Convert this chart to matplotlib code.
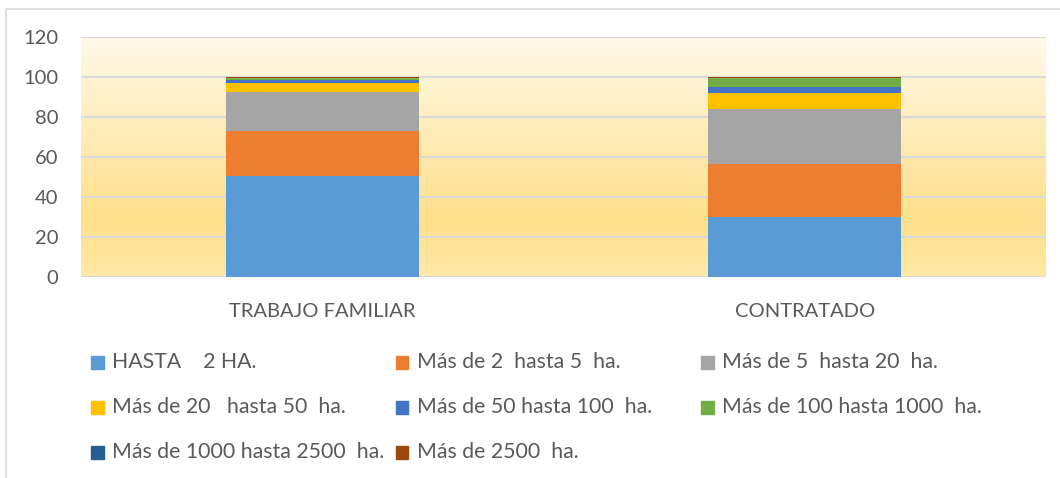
import matplotlib
matplotlib.use("Agg")
import matplotlib.pyplot as plt
import numpy as np
from matplotlib.colors import LinearSegmentedColormap
from matplotlib.patches import Rectangle
from matplotlib.lines import Line2D

plt.rcParams['font.family'] = ['Lato', 'DejaVu Sans']

categories = ["TRABAJO FAMILIAR", "CONTRATADO"]
series_labels = ["HASTA    2 HA.", "Más de 2  hasta 5  ha.", "Más de 5  hasta 20  ha.",
                 "Más de 20   hasta 50  ha.", "Más de 50 hasta 100  ha.", "Más de 100 hasta 1000  ha.",
                 "Más de 1000 hasta 2500  ha.", "Más de 2500  ha."]
hasta2 = [50.7, 30.2]
de2a5 = [22.1, 26.5]
de5a20 = [19.7, 27.5]
de20a50 = [4.3, 7.8]
de50a100 = [1.8, 3.2]
de100a1000 = [0.8, 4.1]
de1000a2500 = [0.2, 0.1]
mas2500 = [0.4, 0.6]
series_values = [hasta2, de2a5, de5a20, de20a50, de50a100, de100a1000, de1000a2500, mas2500]
colors = ["#5B9BD5", "#ED7D31", "#A5A5A5", "#FFC000", "#4472C4", "#70AD47", "#255E91", "#9E480E"]
yticks = [0, 20, 40, 60, 80, 100, 120]

W, H = 1060, 478
fig = plt.figure(figsize=(W / 100, H / 100), dpi=100)
ax = fig.add_axes([81 / W, 1 - 277 / H, (1046 - 81) / W, (277 - 37) / H])

x = np.arange(len(categories))
ax.set_xlim(-0.5, len(categories) - 0.5)
ax.set_ylim(0, 120)

# gradient background
cmap = LinearSegmentedColormap.from_list("bg", [(0, "#FFE9A6"), (0.25, "#FEE08C"), (1, "#FFF9E9")])
grad = np.linspace(0, 1, 256).reshape(-1, 1)
ax.imshow(grad, cmap=cmap, aspect='auto', extent=(-0.5, len(categories) - 0.5, 0, 120),
          origin='lower', zorder=0)

for yv in yticks:
    ax.axhline(yv, color="#D9D9D9", lw=1.5, zorder=1)

bottom = np.zeros(len(categories))
for vals, col, lab in zip(series_values, colors, series_labels):
    ax.bar(x, vals, width=0.4, bottom=bottom, color=col, label=lab, zorder=2)
    bottom += np.array(vals)

for s in ax.spines.values():
    s.set_visible(False)
ax.set_xticks(x)
ax.set_xticklabels(categories)
ax.set_yticks(yticks)
ax.tick_params(axis='both', length=0, colors="#595959", labelsize=14.5)
ax.tick_params(axis='y', pad=16.5)
ax.tick_params(axis='x', pad=18.5)

# legend drawn manually
col_x = [91, 396, 701]
row_y = [362, 407, 452]
for i, (lab, col) in enumerate(zip(series_labels, colors)):
    r, c = divmod(i, 3)
    px, py = col_x[c], row_y[r]
    fig.patches.append(Rectangle((px / W, 1 - (py + 6.5) / H), 12.5 / W, 12.5 / H,
                                 transform=fig.transFigure, color=col))
    fig.text((px + 21) / W, 1 - py / H, lab, fontsize=15.3, color="#595959", va='center', ha='left')

# chart border
fig.lines.append(Line2D([5.5 / W, 5.5 / W, 1.0], [0, 1 - 8.5 / H, 1 - 8.5 / H],
                        transform=fig.transFigure, color="#D9D9D9", lw=1.2))

fig.savefig("out.png", dpi=100)
